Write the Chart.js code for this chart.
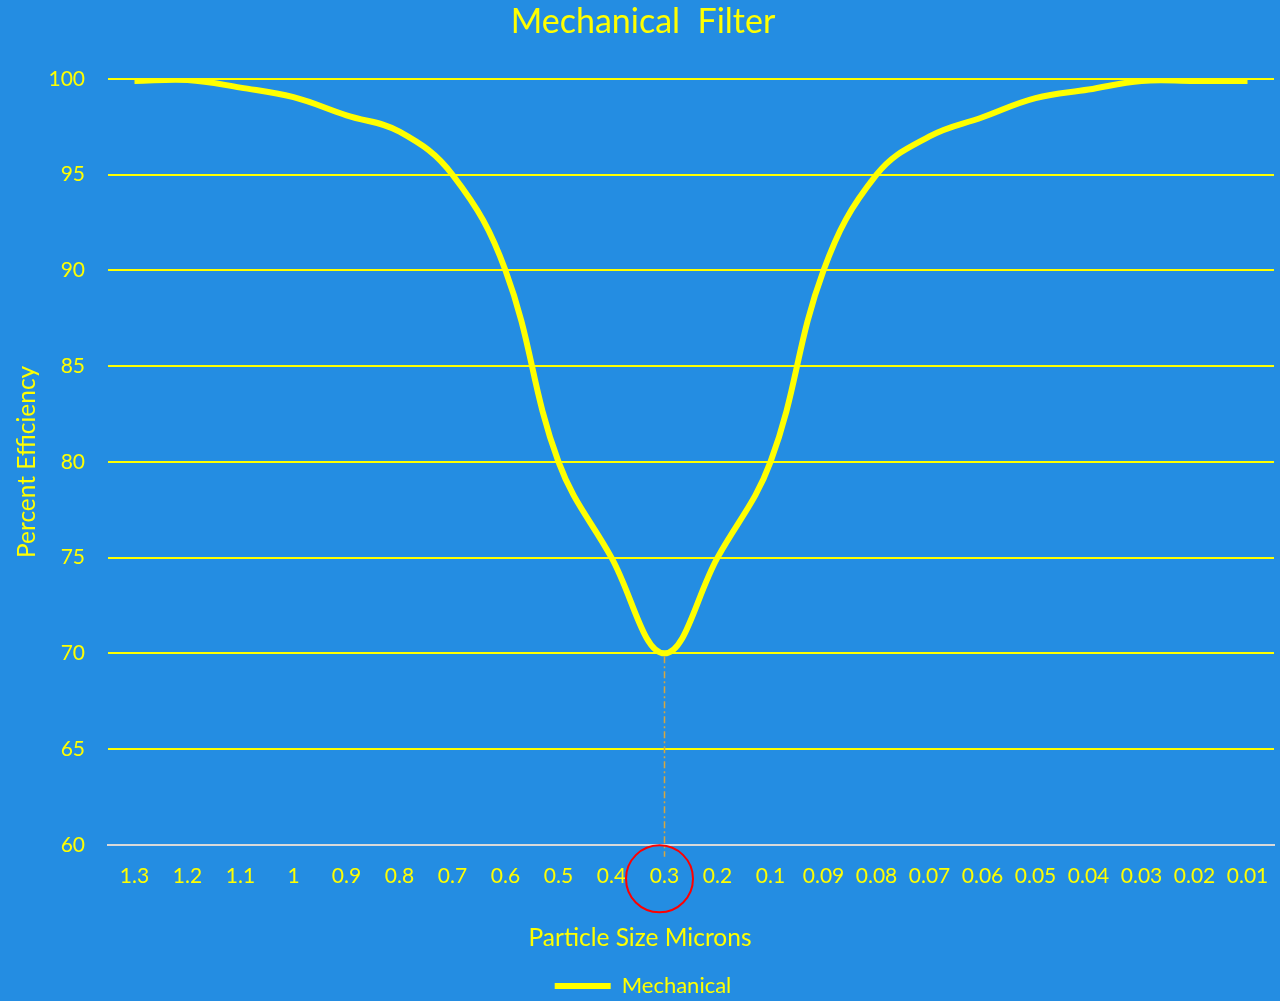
<!DOCTYPE html>
<html>
<head>
<meta charset="utf-8">
<title>Mechanical Filter</title>
<script src="https://cdn.jsdelivr.net/npm/chart.js@4"></script>
<style>
  html, body { margin: 0; padding: 0; background: #248de2; }
  #wrap { width: 1280px; height: 1001px; }
</style>
</head>
<body>
<div id="wrap"><canvas id="c" width="1280" height="1001"></canvas></div>
<script>
// Particle sizes (microns), largest to smallest
const sizes = ['1.3','1.2','1.1','1','0.9','0.8','0.7','0.6','0.5','0.4','0.3','0.2','0.1',
               '0.09','0.08','0.07','0.06','0.05','0.04','0.03','0.02','0.01'];
// Capture efficiency (%) of the mechanical filter at each size
const efficiency = [99.9, 99.95, 99.55, 99.05, 98.1, 97.25, 95, 90, 80, 75, 70, 75, 80,
                    90, 95, 97, 98, 99, 99.45, 99.9, 99.9, 99.9];
const yTicks = [60, 65, 70, 75, 80, 85, 90, 95, 100];
// Most penetrating particle size, highlighted on the axis
const mpps = '0.3';
const xTitle = 'Particle Size Microns';

const FONT = 'Lato, "Open Sans", sans-serif';
const YELLOW = '#ffff00';
const X_TITLE_SIZE = 24.5;
const X_TITLE_PAD_TOP = 34, X_TITLE_PAD_BOTTOM = 18.6;

// Dash-dot drop line from the minimum down to the axis, a ring around its label,
// and the x axis title centred on the whole canvas
const mppsMarker = {
  id: 'mppsMarker',
  afterDatasetsDraw(chart) {
    const { ctx, scales: { x, y } } = chart;
    const i = sizes.indexOf(mpps);
    const px = x.getPixelForValue(i);
    const py = y.getPixelForValue(efficiency[i]);
    ctx.save();
    ctx.strokeStyle = '#d6a640';
    ctx.lineWidth = 1.5;
    ctx.setLineDash([7, 3, 2, 3]);
    ctx.beginPath();
    ctx.moveTo(px, py + 3);
    ctx.lineTo(px, y.bottom + 12);
    ctx.stroke();
    ctx.setLineDash([]);
    ctx.strokeStyle = '#ff0000';
    ctx.lineWidth = 2;
    ctx.beginPath();
    ctx.arc(px - 5, y.bottom + 34, 33.5, 0, Math.PI * 2);
    ctx.stroke();

    ctx.fillStyle = YELLOW;
    ctx.font = X_TITLE_SIZE + 'px ' + FONT;
    ctx.textAlign = 'center';
    ctx.textBaseline = 'middle';
    ctx.fillText(xTitle, chart.width / 2, x.bottom - X_TITLE_PAD_BOTTOM - X_TITLE_SIZE * 0.6);
    ctx.restore();
  }
};

new Chart(document.getElementById('c'), {
  type: 'line',
  data: {
    labels: sizes,
    datasets: [{
      label: 'Mechanical',
      data: efficiency,
      borderColor: YELLOW,
      backgroundColor: YELLOW,
      borderWidth: 6,
      tension: 0.4,
      pointRadius: 0,
      fill: false
    }]
  },
  options: {
    responsive: false,
    animation: false,
    layout: { padding: { left: 12, right: 6, top: 2, bottom: -6 } },
    plugins: {
      title: {
        display: true,
        text: 'Mechanical  Filter',
        color: YELLOW,
        font: { family: FONT, size: 34, weight: 'normal' },
        padding: { top: 0, bottom: 36.2 }
      },
      legend: {
        position: 'bottom',
        labels: {
          color: YELLOW,
          font: { family: FONT, size: 22 },
          usePointStyle: true,
          pointStyle: 'line',
          pointStyleWidth: 56,
          padding: 4
        }
      },
      tooltip: { enabled: false }
    },
    scales: {
      x: {
        offset: true,
        grid: { display: true, drawOnChartArea: false, drawTicks: true, tickLength: 19, tickColor: 'rgba(0,0,0,0)', color: 'rgba(0,0,0,0)' },
        border: { display: true, color: '#d9d9d9', width: 2 },
        ticks: { color: YELLOW, font: { family: FONT, size: 21 }, padding: 0, maxRotation: 0, autoSkip: false },
        // room for the axis title, which the plugin above draws
        afterFit(scale) { scale.height += X_TITLE_PAD_TOP + X_TITLE_SIZE * 1.2 + X_TITLE_PAD_BOTTOM; },
        title: { display: false }
      },
      y: {
        min: 60,
        max: 100,
        afterBuildTicks(scale) { scale.ticks = yTicks.map(v => ({ value: v })); },
        afterFit(scale) { scale.width = 96; },
        grid: { color: YELLOW, lineWidth: 2, drawTicks: false },
        border: { display: false },
        ticks: { color: YELLOW, font: { family: FONT, size: 21 }, padding: 23 },
        title: {
          display: true,
          text: 'Percent Efficiency',
          color: YELLOW,
          font: { family: FONT, size: 24.5 },
          padding: { top: 0, bottom: 12 }
        }
      }
    }
  },
  plugins: [mppsMarker]
});
</script>
</body>
</html>
